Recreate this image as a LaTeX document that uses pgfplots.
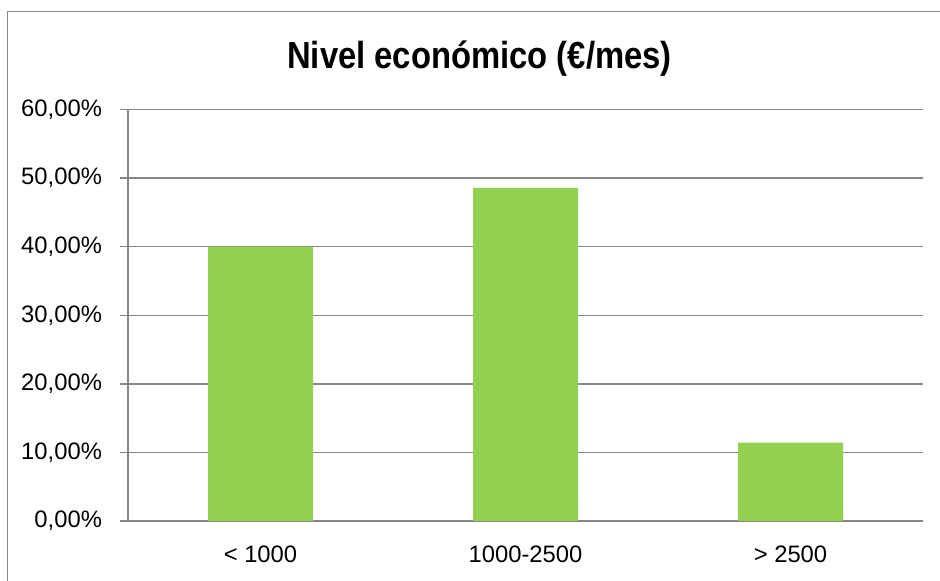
\documentclass[border=0pt]{standalone}
\usepackage{fontspec}
\setmainfont{Liberation Sans}
\newfontfamily\titlefont[FakeStretch=0.87]{Liberation Sans}
\usepackage{pgfplots}
\pgfplotsset{compat=1.18}
\definecolor{bargreen}{HTML}{92D050}
\definecolor{axisgray}{HTML}{868686}

\begin{document}
\begin{tikzpicture}
\useasboundingbox (0,0) rectangle (470pt,290.5pt);
% chart frame
\draw[axisgray, line width=0.75pt] (3.75pt,-10pt) -- (3.75pt,284.75pt) -- (480pt,284.75pt);
\node[anchor=base, inner sep=0pt, font=\titlefont\bfseries\fontsize{18.85}{22}\selectfont]
  at (239.75pt,256pt) {Nivel económico (€/mes)};
\begin{axis}[
  at={(64pt,30pt)}, anchor=south west,
  scale only axis, width=397.5pt, height=205.75pt,
  xmin=-0.5, xmax=2.5, ymin=0, ymax=60,
  axis x line*=bottom, axis y line*=left,
  axis line style={-, axisgray, line width=0.7pt},
  ytick={0,10,...,60}, ymajorgrids,
  grid style={axisgray, line width=0.7pt},
  ytick style={axisgray, line width=0.7pt},
  tick align=outside, major tick length=4pt,
  xtick={0,1,2}, xticklabels={{< 1000},{1000-2500},{> 2500}},
  xtick style={draw=none},
  yticklabel={\pgfmathprintnumber[fixed,fixed zerofill,precision=2,use comma]{\tick}\%},
  /pgf/number format/assume math mode=true,
  tick label style={font=\fontsize{11.9}{14}\selectfont, text=black},
  yticklabel style={xshift=-5.5pt},
  xticklabel style={yshift=-5pt},
]
\addplot[ybar, bar width=52.5pt, fill=bargreen, draw=none]
  coordinates {(0,40.00) (1,48.57) (2,11.43)};
\end{axis}
\end{tikzpicture}
\end{document}
